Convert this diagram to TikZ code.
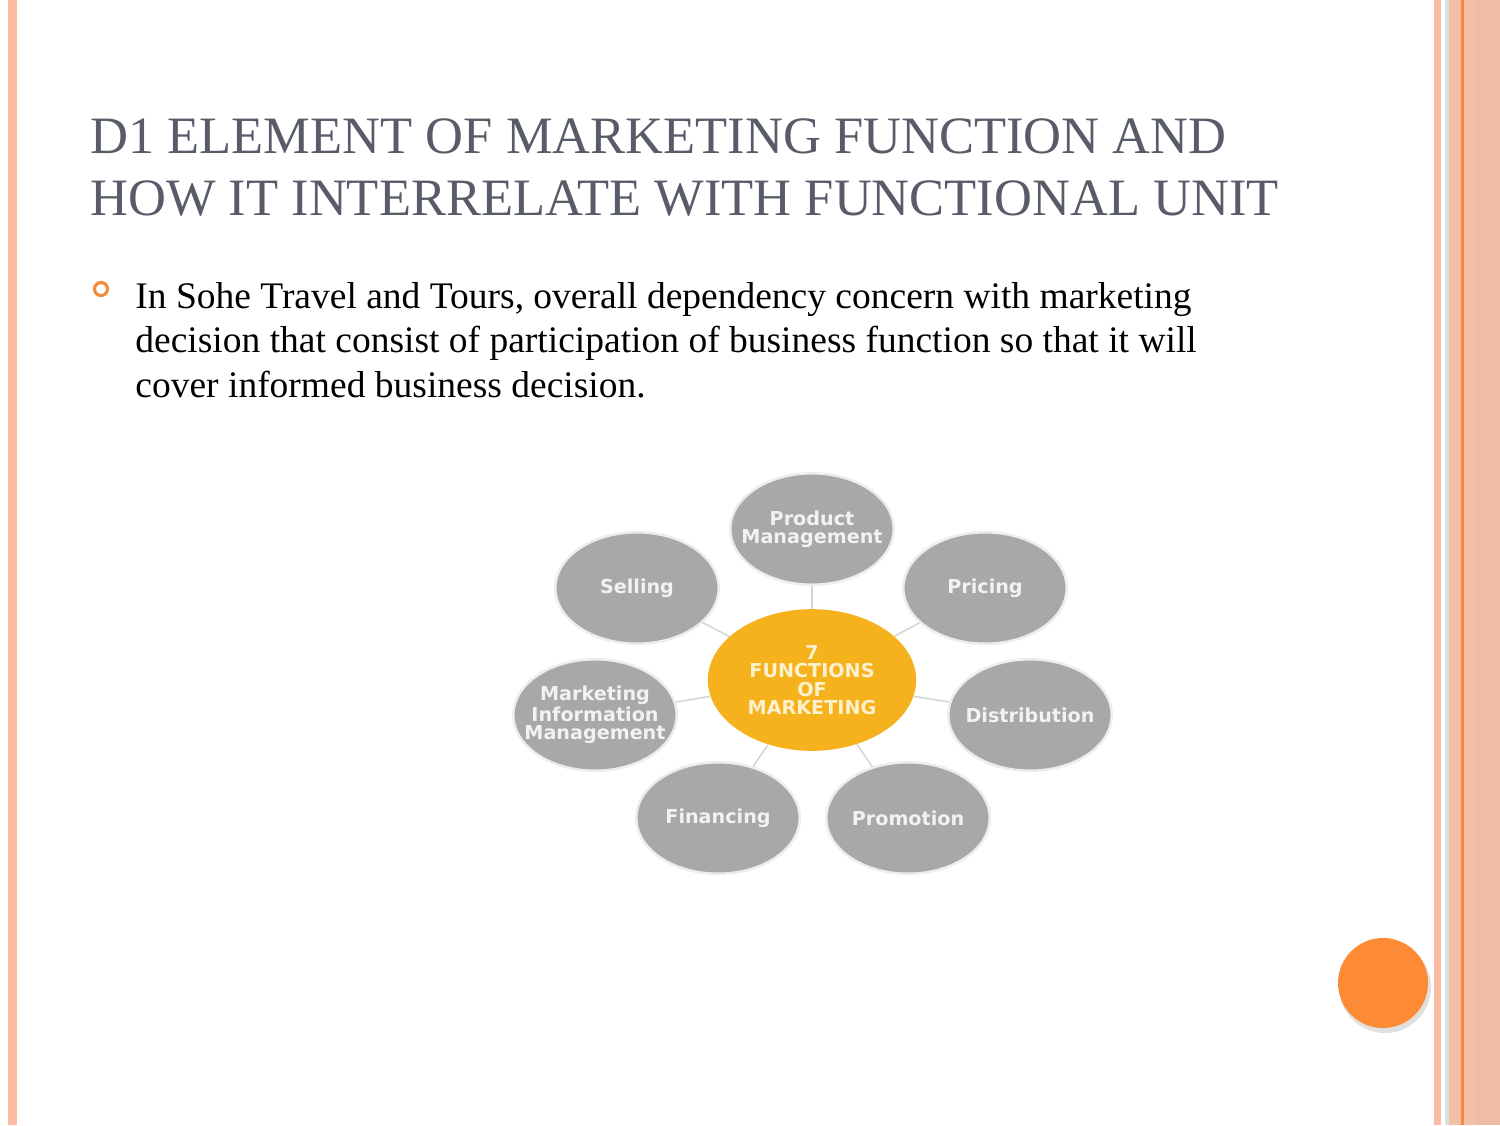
\documentclass[tikz,border=0pt]{standalone}
\usepackage{fontspec}
\setmainfont{Liberation Serif}
\newfontfamily\diagfont{DejaVu Sans}
\usetikzlibrary{shapes.geometric}
\definecolor{slideborder}{HTML}{FBBCA4}
\definecolor{slideband}{HTML}{F4BFA8}
\definecolor{slidebanddark}{HTML}{EFBCA6}
\definecolor{slideline}{HTML}{F58B3C}
\definecolor{slidebluegray}{HTML}{D9E2E0}
\definecolor{titleink}{HTML}{575C68}
\definecolor{bulletorange}{HTML}{F58A3A}
\definecolor{hubyellow}{HTML}{F5B21C}
\definecolor{hubtext}{HTML}{FCF1CF}
\definecolor{spokegray}{HTML}{A8A8A8}
\definecolor{spokeline}{HTML}{D4D4D4}
\definecolor{dotorange}{HTML}{FD8A34}

\begin{document}
\begin{tikzpicture}[
  x=0.48pt,
  y=-0.48pt,
  every node/.style={inner sep=0pt},
  titletext/.style={anchor=base west, font=\fontsize{25.2}{30}\selectfont, titleink},
  bodytext/.style={anchor=base west, font=\fontsize{18}{21.4}\selectfont, black},
  hub/.style={ellipse, fill=hubyellow, minimum width=100pt, minimum height=68pt,
              align=center, text=hubtext, font=\diagfont\bfseries\fontsize{9.2}{8.8}\selectfont},
  spoke/.style={ellipse, fill=spokegray, draw=black!7, line width=1.2pt,
                minimum width=78.5pt, minimum height=53.5pt, inner xsep=-8pt,
                align=center, text=white!95!black, font=\diagfont\bfseries\fontsize{9.2}{8.7}\selectfont},
  link/.style={spokeline, line width=0.7pt}
]
  \useasboundingbox (0,0) rectangle (1500,1125);
  \fill[white] (0,0) rectangle (1500,1125);

  % ---- slide borders ----
  \fill[slideborder] (8,0) rectangle (17,1125);
  \fill[slideborder] (1434,0) rectangle (1441,1125);
  \fill[slidebluegray] (1445,0) rectangle (1449,1125);
  \fill[slideband] (1449,0) rectangle (1476,1125);
  \fill[slideline] (1461,0) rectangle (1463.5,1125);
  \fill[slidebanddark] (1476,0) rectangle (1500,1125);

  % ---- title ----
  \node[titletext] (title1) at (90,153) {D1 ELEMENT OF MARKETING FUNCTION AND};
  \node[titletext] (title2) at (90,215) {HOW IT INTERRELATE WITH FUNCTIONAL UNIT};

  % ---- bullet text ----
  \draw[bulletorange, line width=1.5pt] (101,289) circle (6.5);
  \node[bodytext] (line1) at (135,308) {In Sohe Travel and Tours, overall dependency concern with marketing};
  \node[bodytext] (line2) at (135,352) {decision that consist of participation of business function so that it will};
  \node[bodytext] (line3) at (135,397) {cover informed business decision.};

  % ---- functions of marketing ----
  \node[hub]   (hub)     at (812,680) {7\\FUNCTIONS\\OF\\MARKETING};
  \node[spoke] (product) at (812,529) {Product\\Management};
  \node[spoke] (selling) at (637,588) {Selling};
  \node[spoke] (pricing) at (985,588) {Pricing};
  \node[spoke] (mim)     at (595,715) {Marketing\\Information\\Management};
  \node[spoke] (distrib) at (1030,715) {Distribution};
  \node[spoke] (finance) at (718,818) {Financing};
  \node[spoke] (promo)   at (908,818) {Promotion};

  \foreach \s in {product,selling,pricing,mim,distrib,finance,promo}
    \draw[link] (hub) -- (\s);

  % ---- corner dot ----
  \fill[black!12] (1385,987) circle (46);
  \fill[dotorange] (1383,983) circle (45);
\end{tikzpicture}
\end{document}
